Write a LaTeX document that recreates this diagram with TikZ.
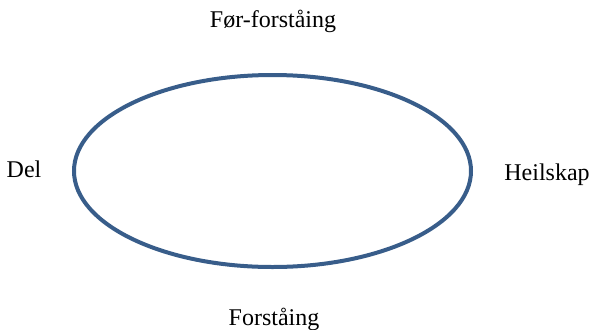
\documentclass[tikz,border=0pt]{standalone}
\usepackage{fontspec}
\setmainfont{Liberation Serif}
\usetikzlibrary{shapes.geometric}
\definecolor{circleBlue}{RGB}{56, 93, 138}

\begin{document}
\begin{tikzpicture}[
  x=0.75pt,y=-0.75pt,
  circlestep/.style={
    draw=circleBlue,
    ellipse,
    line width=3pt,
    minimum width=397*0.75pt,
    minimum height=192*0.75pt,
    inner sep=0pt
  },
  stagelabel/.style={
    anchor=base,
    font=\fontsize{18}{21}\selectfont,
    inner sep=0pt
  }
]
  \useasboundingbox (0,0) rectangle (592,329);
  \node[circlestep] (circle) at (272.5,171) {};
  \node[stagelabel] (preunderstanding) at (273,27) {Før-forståing};
  \node[stagelabel] (part) at (24,177) {Del};
  \node[stagelabel] (whole) at (547,180) {Heilskap};
  \node[stagelabel] (understanding) at (274,325) {Forståing};
\end{tikzpicture}
\end{document}
